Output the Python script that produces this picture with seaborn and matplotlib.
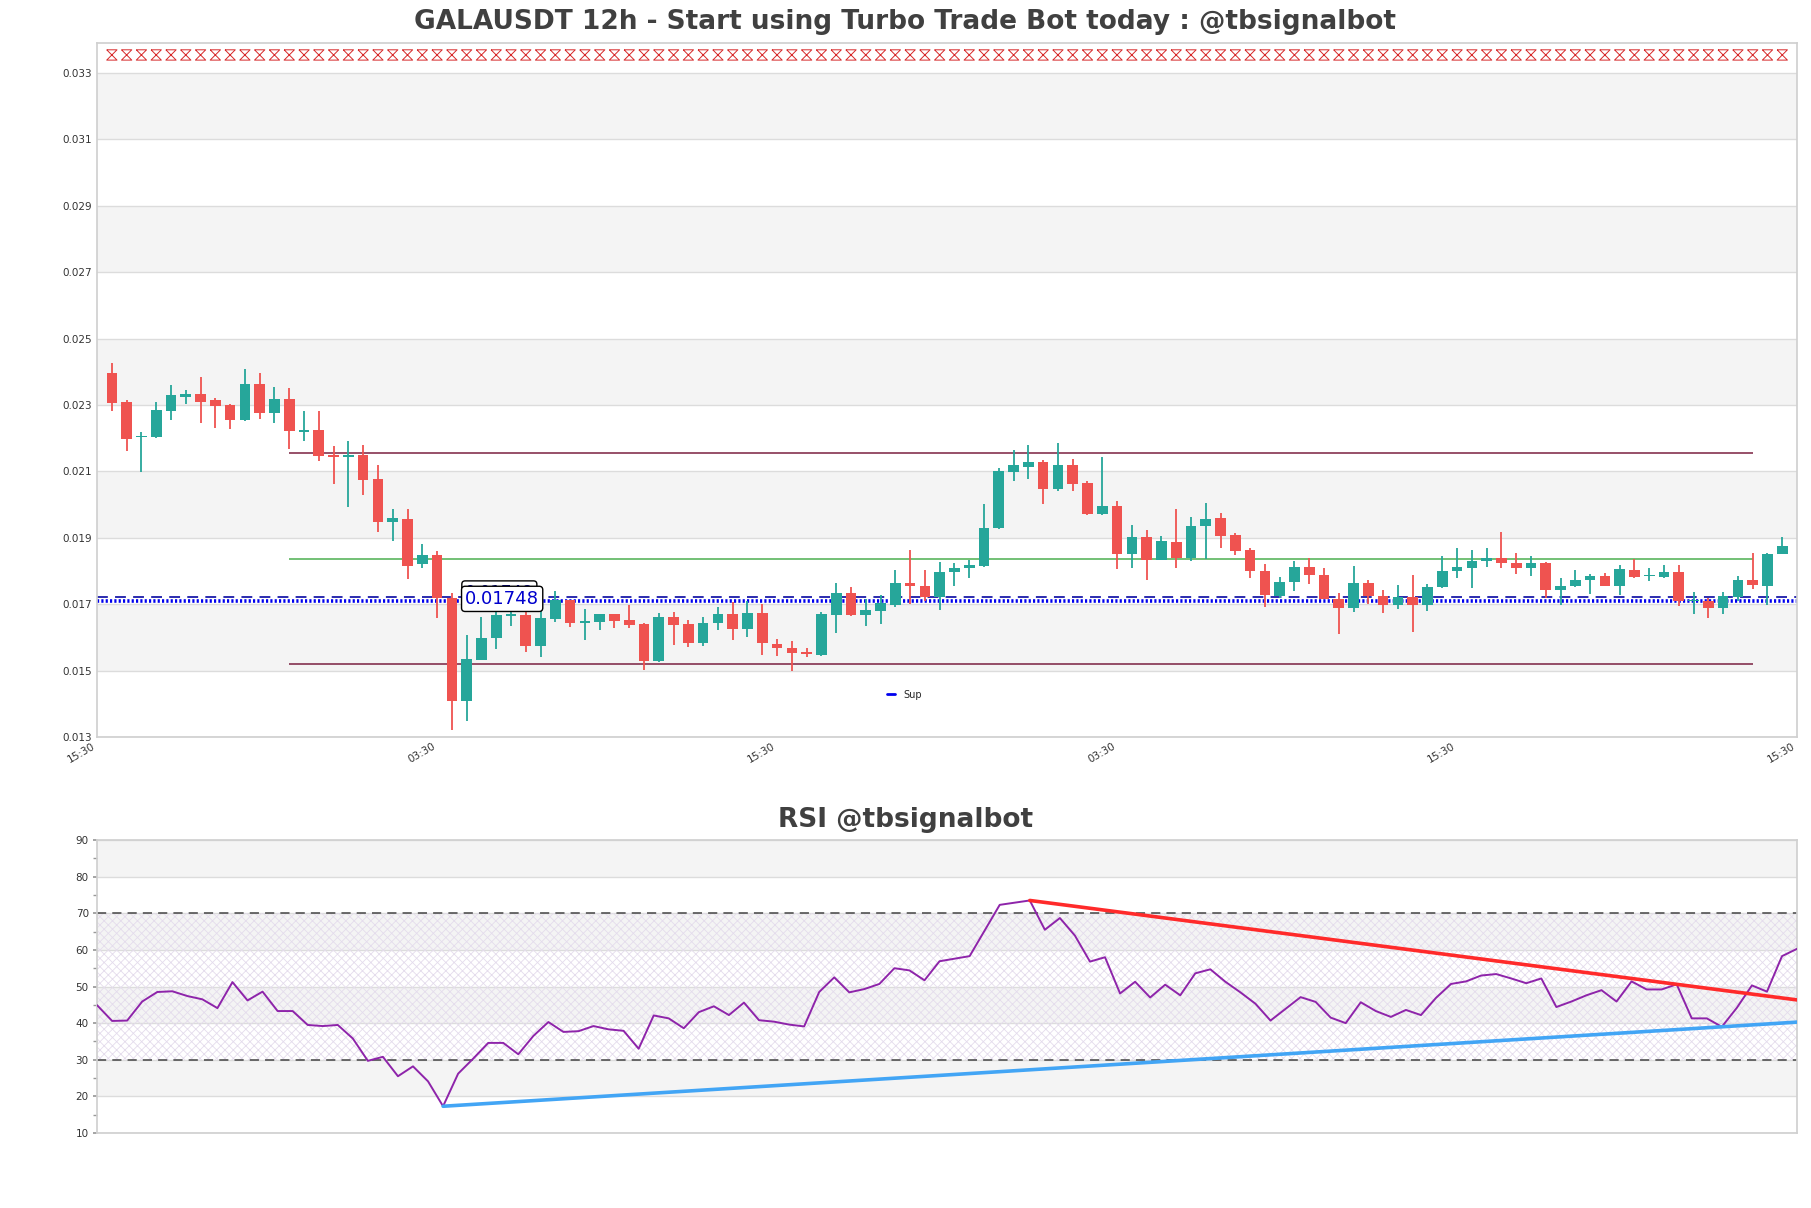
import numpy as np
import pandas as pd
import matplotlib
matplotlib.use("Agg")
import matplotlib.pyplot as plt
from matplotlib.path import Path
import seaborn as sns

# ---------------- data ----------------
opens = [0.02396, 0.02308, 0.02202, 0.02204, 0.02282, 0.02324, 0.02332, 0.02314, 0.02299, 0.02255,
         0.02362, 0.02276, 0.02317, 0.02220, 0.02224, 0.02150, 0.02144, 0.02150, 0.02077, 0.01946,
         0.01957, 0.01821, 0.01849, 0.01720, 0.01409, 0.01532, 0.01597, 0.01665, 0.01667, 0.01573,
         0.01654, 0.01714, 0.01643, 0.01647, 0.01669, 0.01651, 0.01640, 0.01530, 0.01660, 0.01640,
         0.01583, 0.01643, 0.01669, 0.01625, 0.01674, 0.01579, 0.01567, 0.01556, 0.01547, 0.01667,
         0.01735, 0.01667, 0.01679, 0.01697, 0.01765, 0.01756, 0.01721, 0.01796, 0.01808, 0.01815,
         0.01928, 0.02099, 0.02114, 0.02128, 0.02048, 0.02119, 0.02065, 0.01973, 0.01996, 0.01850,
         0.01903, 0.01832, 0.01888, 0.01838, 0.01934, 0.01960, 0.01909, 0.01862, 0.01801, 0.01725,
         0.01766, 0.01813, 0.01789, 0.01717, 0.01688, 0.01765, 0.01726, 0.01697, 0.01721, 0.01697,
         0.01753, 0.01801, 0.01810, 0.01829, 0.01838, 0.01825, 0.01810, 0.01825, 0.01742, 0.01754,
         0.01772, 0.01786, 0.01756, 0.01804, 0.01784, 0.01783, 0.01797, 0.01710, 0.01710, 0.01688,
         0.01723, 0.01774, 0.01756, 0.01850]
highs = [0.02425, 0.02316, 0.02220, 0.02310, 0.02359, 0.02345, 0.02383, 0.02320, 0.02302, 0.02407,
         0.02395, 0.02353, 0.02350, 0.02282, 0.02282, 0.02177, 0.02190, 0.02178, 0.02118, 0.01986,
         0.01987, 0.01882, 0.01860, 0.01735, 0.01607, 0.01660, 0.01690, 0.01685, 0.01690, 0.01690,
         0.01740, 0.01714, 0.01685, 0.01669, 0.01669, 0.01698, 0.01643, 0.01672, 0.01675, 0.01652,
         0.01660, 0.01692, 0.01707, 0.01710, 0.01702, 0.01594, 0.01588, 0.01568, 0.01675, 0.01765,
         0.01753, 0.01715, 0.01728, 0.01804, 0.01862, 0.01802, 0.01828, 0.01825, 0.01832, 0.02003,
         0.02110, 0.02164, 0.02179, 0.02133, 0.02185, 0.02137, 0.02070, 0.02144, 0.02010, 0.01937,
         0.01923, 0.01906, 0.01987, 0.01963, 0.02006, 0.01976, 0.01915, 0.01868, 0.01822, 0.01783,
         0.01830, 0.01838, 0.01808, 0.01735, 0.01816, 0.01773, 0.01743, 0.01759, 0.01789, 0.01762,
         0.01846, 0.01868, 0.01864, 0.01870, 0.01916, 0.01855, 0.01846, 0.01828, 0.01778, 0.01804,
         0.01792, 0.01795, 0.01819, 0.01835, 0.01810, 0.01817, 0.01818, 0.01738, 0.01718, 0.01738,
         0.01786, 0.01855, 0.01855, 0.01903]
lows = [0.02282, 0.02162, 0.02099, 0.02200, 0.02255, 0.02302, 0.02245, 0.02231, 0.02228, 0.02252,
        0.02258, 0.02246, 0.02168, 0.02192, 0.02132, 0.02063, 0.01994, 0.02030, 0.01916, 0.01889,
        0.01776, 0.01810, 0.01658, 0.01320, 0.01347, 0.01532, 0.01565, 0.01635, 0.01555, 0.01542,
        0.01645, 0.01630, 0.01592, 0.01622, 0.01628, 0.01628, 0.01503, 0.01525, 0.01578, 0.01572,
        0.01575, 0.01622, 0.01592, 0.01602, 0.01548, 0.01545, 0.01500, 0.01540, 0.01545, 0.01612,
        0.01665, 0.01634, 0.01640, 0.01690, 0.01700, 0.01710, 0.01682, 0.01754, 0.01780, 0.01813,
        0.01925, 0.02072, 0.02078, 0.02003, 0.02042, 0.02042, 0.01968, 0.01970, 0.01805, 0.01808,
        0.01772, 0.01832, 0.01810, 0.01830, 0.01836, 0.01868, 0.01847, 0.01778, 0.01692, 0.01720,
        0.01740, 0.01760, 0.01715, 0.01610, 0.01675, 0.01700, 0.01672, 0.01685, 0.01616, 0.01678,
        0.01750, 0.01780, 0.01748, 0.01813, 0.01808, 0.01792, 0.01786, 0.01720, 0.01698, 0.01752,
        0.01732, 0.01754, 0.01728, 0.01778, 0.01769, 0.01778, 0.01695, 0.01670, 0.01657, 0.01670,
        0.01710, 0.01745, 0.01697, 0.01850]
closes = [0.02306, 0.02198, 0.02205, 0.02284, 0.02329, 0.02332, 0.02309, 0.02297, 0.02255, 0.02362,
          0.02276, 0.02317, 0.02222, 0.02222, 0.02147, 0.02144, 0.02150, 0.02075, 0.01946, 0.01960,
          0.01816, 0.01849, 0.01718, 0.01409, 0.01534, 0.01597, 0.01667, 0.01668, 0.01573, 0.01657,
          0.01714, 0.01643, 0.01648, 0.01669, 0.01649, 0.01638, 0.01530, 0.01660, 0.01637, 0.01582,
          0.01644, 0.01669, 0.01625, 0.01674, 0.01583, 0.01568, 0.01553, 0.01550, 0.01669, 0.01735,
          0.01667, 0.01681, 0.01703, 0.01765, 0.01754, 0.01721, 0.01798, 0.01810, 0.01819, 0.01930,
          0.02102, 0.02119, 0.02128, 0.02048, 0.02119, 0.02063, 0.01973, 0.01996, 0.01850, 0.01903,
          0.01832, 0.01891, 0.01838, 0.01936, 0.01957, 0.01906, 0.01859, 0.01799, 0.01728, 0.01768,
          0.01813, 0.01787, 0.01715, 0.01688, 0.01765, 0.01725, 0.01697, 0.01721, 0.01697, 0.01753,
          0.01801, 0.01813, 0.01831, 0.01838, 0.01823, 0.01810, 0.01825, 0.01742, 0.01756, 0.01774,
          0.01786, 0.01756, 0.01807, 0.01783, 0.01787, 0.01797, 0.01710, 0.01713, 0.01688, 0.01725,
          0.01774, 0.01759, 0.01852, 0.01876]

rsi = [44.9, 40.6, 40.7, 45.9, 48.5, 48.7, 47.4, 46.5, 44.1, 51.2,
       46.2, 48.6, 43.3, 43.3, 39.5, 39.2, 39.5, 35.8, 29.7, 30.8,
       25.5, 28.2, 24.1, 17.3, 26.2, 30.3, 34.6, 34.6, 31.5, 36.5,
       40.3, 37.6, 37.8, 39.2, 38.3, 37.9, 33.0, 42.1, 41.3, 38.6,
       43.0, 44.6, 42.2, 45.6, 40.8, 40.4, 39.6, 39.1, 48.5, 52.5,
       48.4, 49.3, 50.7, 55.0, 54.4, 51.7, 56.9, 57.6, 58.3, 65.3,
       72.3, 72.9, 73.5, 65.5, 68.7, 63.9, 56.8, 58.0, 48.1, 51.3,
       47.0, 50.5, 47.6, 53.6, 54.7, 51.3, 48.4, 45.3, 40.7, 43.9,
       47.1, 45.8, 41.5, 40.0, 45.7, 43.3, 41.7, 43.6, 42.2, 46.9,
       50.7, 51.4, 53.0, 53.4, 52.2, 50.9, 52.2, 44.4, 45.9, 47.6,
       49.0, 45.9, 51.4, 49.2, 49.2, 50.6, 41.3, 41.3, 39.0, 44.2,
       50.3, 48.6, 58.3, 60.3]

x_tick_labels = ["15:30", "03:30", "15:30", "03:30", "15:30", "15:30"]
resistance_level = 0.02154
mid_level = 0.01837
support_level = 0.01521
sup_dashed = 0.01722
sup_dotted = 0.01710
annot_text = "0.01748"
signal_level = 0.03354
level_span = (12, 111)
rsi_support_pivots = (23, 108)
rsi_resist_pivots = (62, 105)

# ---------------- figure ----------------
sns.set_theme(style="white")
plt.rcParams["font.family"] = ["DejaVu Sans"]
plt.rcParams["hatch.linewidth"] = 0.6

fig = plt.figure(figsize=(18.11, 12.08), dpi=100)
ax = fig.add_axes([0.0536, 0.3899, 0.9387, 0.5745])
ax2 = fig.add_axes([0.0536, 0.0621, 0.9387, 0.2425])

up_c = "#26a69a"
dn_c = "#ef5350"
band_c = "#f4f4f4"
grid_c = "#dcdcdc"
spine_c = "#d0d0d0"

df = pd.DataFrame({"o": opens, "h": highs, "l": lows, "c": closes})
df["x"] = np.arange(len(df))
df["up"] = df["c"] >= df["o"]
df["col"] = np.where(df["up"], up_c, dn_c)
df["bot"] = df[["o", "c"]].min(axis=1)
df["hgt"] = (df["c"] - df["o"]).abs().clip(lower=0.00004)

# main axes
ymin, ymax = 0.013, 0.0339
yt = np.arange(0.013, 0.0331, 0.002)
for k in range(len(yt) - 1):
    if k % 2 == 1:
        ax.axhspan(yt[k], yt[k + 1], color=band_c, zorder=0, lw=0)
for v in yt:
    ax.axhline(v, color=grid_c, lw=1.0, zorder=0.5)

ax.vlines(df["x"], df["l"], df["h"], colors=df["col"], lw=1.3, zorder=2)
ax.bar(df["x"], df["hgt"], bottom=df["bot"], width=0.72, color=df["col"], zorder=3, lw=0)

ax.hlines(resistance_level, *level_span, colors="#7a2040", lw=1.1, zorder=1.5)
ax.hlines(support_level, *level_span, colors="#7a2040", lw=1.1, zorder=1.5)
ax.hlines(mid_level, *level_span, colors="#4caf50", lw=1.1, zorder=1.5)
ax.axhline(sup_dashed, color="#1a1aa8", lw=1.3, ls=(0, (6, 4)), zorder=1.6)
ax.axhline(sup_dotted, color="#0000ee", lw=2.6, ls=(0, (0.6, 0.6)), zorder=1.6, label="Sup")

hourglass = Path([(-1, 1), (1, 1), (-1, -1), (1, -1), (-1, 1)],
                 [Path.MOVETO, Path.LINETO, Path.LINETO, Path.LINETO, Path.LINETO])
ax.scatter(df["x"], np.full(len(df), signal_level), marker=hourglass, s=55,
           facecolors="none", edgecolors="#d62728", linewidths=0.7, zorder=4)

ax.annotate(annot_text, xy=(23.9, 0.01733), xytext=(23.9, 0.01733), ha="left", va="center",
            fontsize=12, color="#00008b",
            bbox=dict(boxstyle="round,pad=0.2", fc="white", ec="black", lw=1), zorder=6)
ax.annotate(annot_text, xy=(23.9, 0.01716), xytext=(23.9, 0.01716), ha="left", va="center",
            fontsize=13, color="#0000cd",
            bbox=dict(boxstyle="round,pad=0.2", fc="white", ec="black", lw=1), zorder=7)

ax.set_xlim(-1, 114)
ax.set_ylim(ymin, ymax)
ax.set_yticks(yt)
ax.set_yticklabels([f"{v:.3f}" for v in yt], fontsize=7.5, color="#333333")
ax.set_xticks(np.linspace(-1, 114, 6))
ax.set_xticklabels(x_tick_labels, rotation=30, ha="right", fontsize=7.5, color="#333333")
ax.tick_params(axis="x", length=2, pad=1)
ax.tick_params(axis="y", length=0, pad=4)
for s in ax.spines.values():
    s.set_color(spine_c)
leg = ax.legend(loc="center", bbox_to_anchor=(0.475, 0.061), frameon=False, fontsize=7,
                handlelength=0.8, handletextpad=0.8)
for h in leg.get_lines():
    h.set_linestyle("-")
    h.set_linewidth(2)

# RSI axes
rdf = pd.DataFrame({"i": np.arange(len(rsi)), "rsi": rsi})
for lo, hi in [(20, 30), (40, 50), (60, 70), (80, 90)]:
    ax2.axhspan(lo, hi, color=band_c, zorder=0, lw=0)
for v in range(10, 91, 10):
    ax2.axhline(v, color=grid_c, lw=1.0, zorder=0.5)
ax2.fill_between([0, len(rsi) - 1], 30, 70, facecolor="none", edgecolor="#e4dcec",
                 hatch="xxxx", lw=0, zorder=0.8)
ax2.axhline(70, color="#444444", lw=1.1, ls=(0, (6, 4)), zorder=1)
ax2.axhline(30, color="#444444", lw=1.1, ls=(0, (6, 4)), zorder=1)
sns.lineplot(data=rdf, x="i", y="rsi", ax=ax2, color="#8e24aa", lw=1.4, zorder=3)

n_last = len(rsi) - 1
a, b = rsi_support_pivots
slope = (rsi[b] - rsi[a]) / (b - a)
ax2.plot([a, n_last], [rsi[a], rsi[a] + slope * (n_last - a)], color="#42a5f5", lw=2.6, zorder=4)
a, b = rsi_resist_pivots
slope = (rsi[b] - rsi[a]) / (b - a)
ax2.plot([a, n_last], [rsi[a], rsi[a] + slope * (n_last - a)], color="#ff2a2a", lw=2.6, zorder=4)

ax2.set_xlim(0, n_last)
ax2.set_ylim(10, 90)
ax2.set_yticks(range(10, 91, 10))
ax2.set_yticks(range(15, 90, 10), minor=True)
ax2.set_yticklabels([str(v) for v in range(10, 91, 10)], fontsize=7.5, color="#333333")
ax2.tick_params(axis="y", which="both", length=3, color="#999999", left=True, pad=3)
ax2.set_xticks([])
ax2.set_xlabel("")
ax2.set_ylabel("")
for s in ax2.spines.values():
    s.set_color(spine_c)

fig.text(0.5, 1 - 22 / 1208, "GALAUSDT 12h - Start using Turbo Trade Bot today : @tbsignalbot",
         ha="center", va="center", fontsize=19, fontweight="bold", color="#404040")
fig.text(0.5, 1 - 820 / 1208, "RSI @tbsignalbot", ha="center", va="center",
         fontsize=19, fontweight="bold", color="#404040")

fig.savefig("out.png", dpi=100)
